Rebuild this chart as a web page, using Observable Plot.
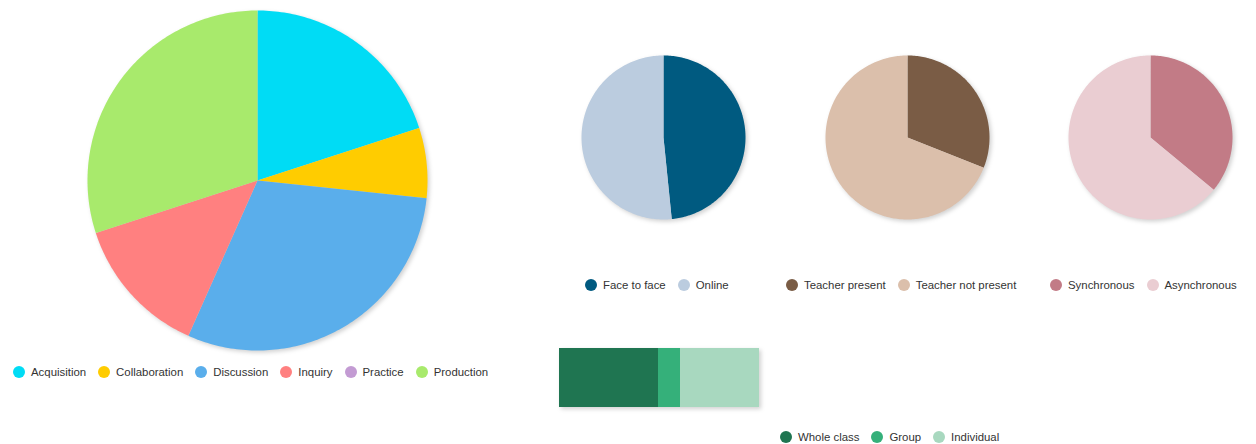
<!DOCTYPE html>
<html>
<head>
<meta charset="utf-8">
<script src="https://cdn.jsdelivr.net/npm/d3@7"></script>
<script src="https://cdn.jsdelivr.net/npm/@observablehq/plot@0.6"></script>
<style>
  html, body { margin: 0; padding: 0; background: #fff; }
  #root { position: relative; width: 1256px; height: 444px; overflow: hidden; font-family: "Liberation Sans", Arial, sans-serif; }
  .blk { position: absolute; }
  .blk svg { overflow: visible; }
  .legend { position: absolute; display: flex; align-items: center; font-size: 11.4px; color: #333; white-space: nowrap; }
  .item { display: flex; align-items: center; margin-right: 12px; }
  .sw { width: 12px; height: 12px; border-radius: 50%; margin-right: 6px; }
  .shadow svg { filter: drop-shadow(2px 2px 2px rgba(0,0,0,0.18)); }
</style>
</head>
<body>
<div id="root"></div>
<script>
// ---- data ----
const activities = ["Acquisition", "Collaboration", "Discussion", "Inquiry", "Practice", "Production"];
const activityValues = [6, 2, 9, 4, 0, 9];
const activityColors = ["#00dcf5", "#ffcc00", "#5aaeeb", "#ff8080", "#c39bd3", "#a8ea6c"];

const modeLabels = ["Face to face", "Online"];
const modeValues = [48.4, 51.6];
const modeColors = ["#005a80", "#bbccdf"];

const presenceLabels = ["Teacher present", "Teacher not present"];
const presenceValues = [31, 69];
const presenceColors = ["#7a5c45", "#dbbfab"];

const timingLabels = ["Synchronous", "Asynchronous"];
const timingValues = [36, 64];
const timingColors = ["#c27b86", "#eacdd2"];

const groupingLabels = ["Whole class", "Group", "Individual"];
const groupingValues = [49.5, 11, 39.5];
const groupingColors = ["#1f7551", "#35b07a", "#a8d8bf"];

// ---- helpers ----
const root = document.getElementById("root");

function slicePoints(labels, values) {
  const total = d3.sum(values);
  const pts = [];
  let acc = 0;
  labels.forEach((label, i) => {
    const v = values[i];
    if (v <= 0) { return; }
    const a0 = acc / total * 2 * Math.PI;
    acc += v;
    const a1 = acc / total * 2 * Math.PI;
    const n = Math.max(2, Math.ceil((a1 - a0) / (Math.PI / 180)));
    pts.push({label, x: 0, y: 0});
    for (let k = 0; k <= n; k++) {
      const a = a0 + (a1 - a0) * k / n;
      pts.push({label, x: Math.sin(a), y: Math.cos(a)});
    }
    pts.push({label, x: 0, y: 0});
  });
  return pts;
}

function pie(labels, values, colors, cx, cy, r) {
  const m = 6;
  const chart = Plot.plot({
    width: 2 * r + 2 * m,
    height: 2 * r + 2 * m,
    margin: m,
    x: {domain: [-1, 1], axis: null},
    y: {domain: [-1, 1], axis: null},
    color: {domain: labels, range: colors},
    marks: [
      Plot.line(slicePoints(labels, values), {x: "x", y: "y", z: "label", fill: "label", stroke: "none", curve: "linear"})
    ]
  });
  const div = document.createElement("div");
  div.className = "blk shadow";
  div.style.left = (cx - r - m) + "px";
  div.style.top = (cy - r - m) + "px";
  div.appendChild(chart);
  root.appendChild(div);
}

function legend(labels, colors, left, top) {
  const div = document.createElement("div");
  div.className = "legend";
  div.style.left = left + "px";
  div.style.top = top + "px";
  labels.forEach((l, i) => {
    const it = document.createElement("div");
    it.className = "item";
    const sw = document.createElement("div");
    sw.className = "sw";
    sw.style.background = colors[i];
    const t = document.createElement("span");
    t.textContent = l;
    it.appendChild(sw);
    it.appendChild(t);
    div.appendChild(it);
  });
  root.appendChild(div);
}

// ---- big pie ----
pie(activities, activityValues, activityColors, 257, 180, 170);
legend(activities, activityColors, 13, 366);

// ---- small pies ----
pie(modeLabels, modeValues, modeColors, 663, 137, 82);
legend(modeLabels, modeColors, 585, 279);
pie(presenceLabels, presenceValues, presenceColors, 907, 137, 82);
legend(presenceLabels, presenceColors, 786, 279);
pie(timingLabels, timingValues, timingColors, 1150, 137, 82);
legend(timingLabels, timingColors, 1050, 279);

// ---- stacked bar ----
const barData = groupingLabels.map((g, i) => ({group: g, value: groupingValues[i], row: "all"}));
const bar = Plot.plot({
  width: 200,
  height: 59,
  margin: 0,
  x: {domain: [0, d3.sum(groupingValues)], axis: null},
  y: {axis: null, padding: 0},
  color: {domain: groupingLabels, range: groupingColors},
  marks: [
    Plot.barX(barData, Plot.stackX({x: "value", y: "row", fill: "group", order: groupingLabels, inset: 0}))
  ]
});
const bdiv = document.createElement("div");
bdiv.className = "blk shadow";
bdiv.style.left = "559px";
bdiv.style.top = "348px";
bdiv.appendChild(bar);
root.appendChild(bdiv);
legend(groupingLabels, groupingColors, 780, 431);
</script>
</body>
</html>
